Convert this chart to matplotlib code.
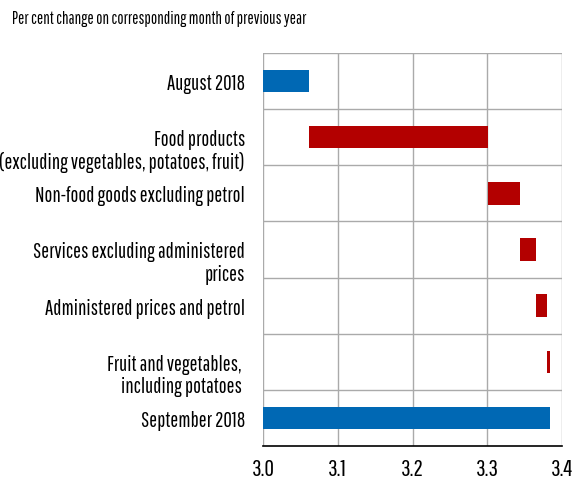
import matplotlib
matplotlib.use("Agg")
import matplotlib.pyplot as plt
import matplotlib.transforms as mtransforms
import numpy as np

plt.rcParams['font.family'] = ['Pathway Gothic One', 'DejaVu Sans']

categories = [
    "August 2018",
    "Food products\n(excluding vegetables, potatoes, fruit)",
    "Non-food goods excluding petrol",
    "Services excluding administered\nprices",
    "Administered prices and petrol",
    "Fruit and vegetables, \nincluding potatoes ",
    "September 2018",
]
august_value = 3.061
contributions = [0.240, 0.043, 0.021, 0.015, 0.004]
september_value = 3.384
x_ticks = [3.0, 3.1, 3.2, 3.3, 3.4]
x_tick_labels = ["3.0", "3.1", "3.2", "3.3", "3.4"]
title = "Per cent change on corresponding month of previous year"

BLUE = "#0068B4"
RED = "#B30000"
GRID = "#AAAAAA"
base = 3.0

fig = plt.figure(figsize=(5.74, 4.81), dpi=100)
ax = fig.add_axes([263/574, 1-447/481, (562-263)/574, (447-54)/481])

ypos = np.arange(len(categories))
h = 0.4
# totals
ax.barh(ypos[0], august_value - base, left=base, height=h, color=BLUE, zorder=3)
ax.barh(ypos[-1], september_value - base, left=base, height=h, color=BLUE, zorder=3)
# contributions
lefts = august_value + np.concatenate([[0], np.cumsum(contributions)[:-1]])
ax.barh(ypos[1:-1], contributions, left=lefts, height=h, color=RED, zorder=3)

ax.set_xlim(3.0, 3.4)
ax.set_ylim(len(categories) - 0.5, -0.5)
ax.set_xticks(x_ticks)
ax.set_xticklabels(x_tick_labels, fontsize=17)
ax.tick_params(axis='x', length=0, pad=9, colors='black')

# gridlines
for xv in x_ticks[1:]:
    ax.axvline(xv, color=GRID, lw=1.0, zorder=1)
for yv in np.arange(-0.5, len(categories) - 0.5, 1.0):
    ax.axhline(yv, color=GRID, lw=1.0, zorder=1)

for s in ['top', 'right', 'left']:
    ax.spines[s].set_visible(False)
ax.spines['bottom'].set_color('black')
ax.spines['bottom'].set_linewidth(1.2)
ax.axvline(3.0, color=GRID, lw=1.0, zorder=1)

ax.set_yticks(ypos)
ax.set_yticklabels(categories, fontsize=15, ha='right', linespacing=1.15)
ax.tick_params(axis='y', length=0, pad=13)
for lbl, txt in zip(ax.get_yticklabels(), categories):
    if "\n" in txt:
        lbl.set_transform(lbl.get_transform() + mtransforms.ScaledTranslation(0, -10/100, fig.dpi_scale_trans))

fig.text(12/574, 1-19/481, title, fontsize=12, ha='left', va='center')

fig.savefig("out.png", dpi=100)
